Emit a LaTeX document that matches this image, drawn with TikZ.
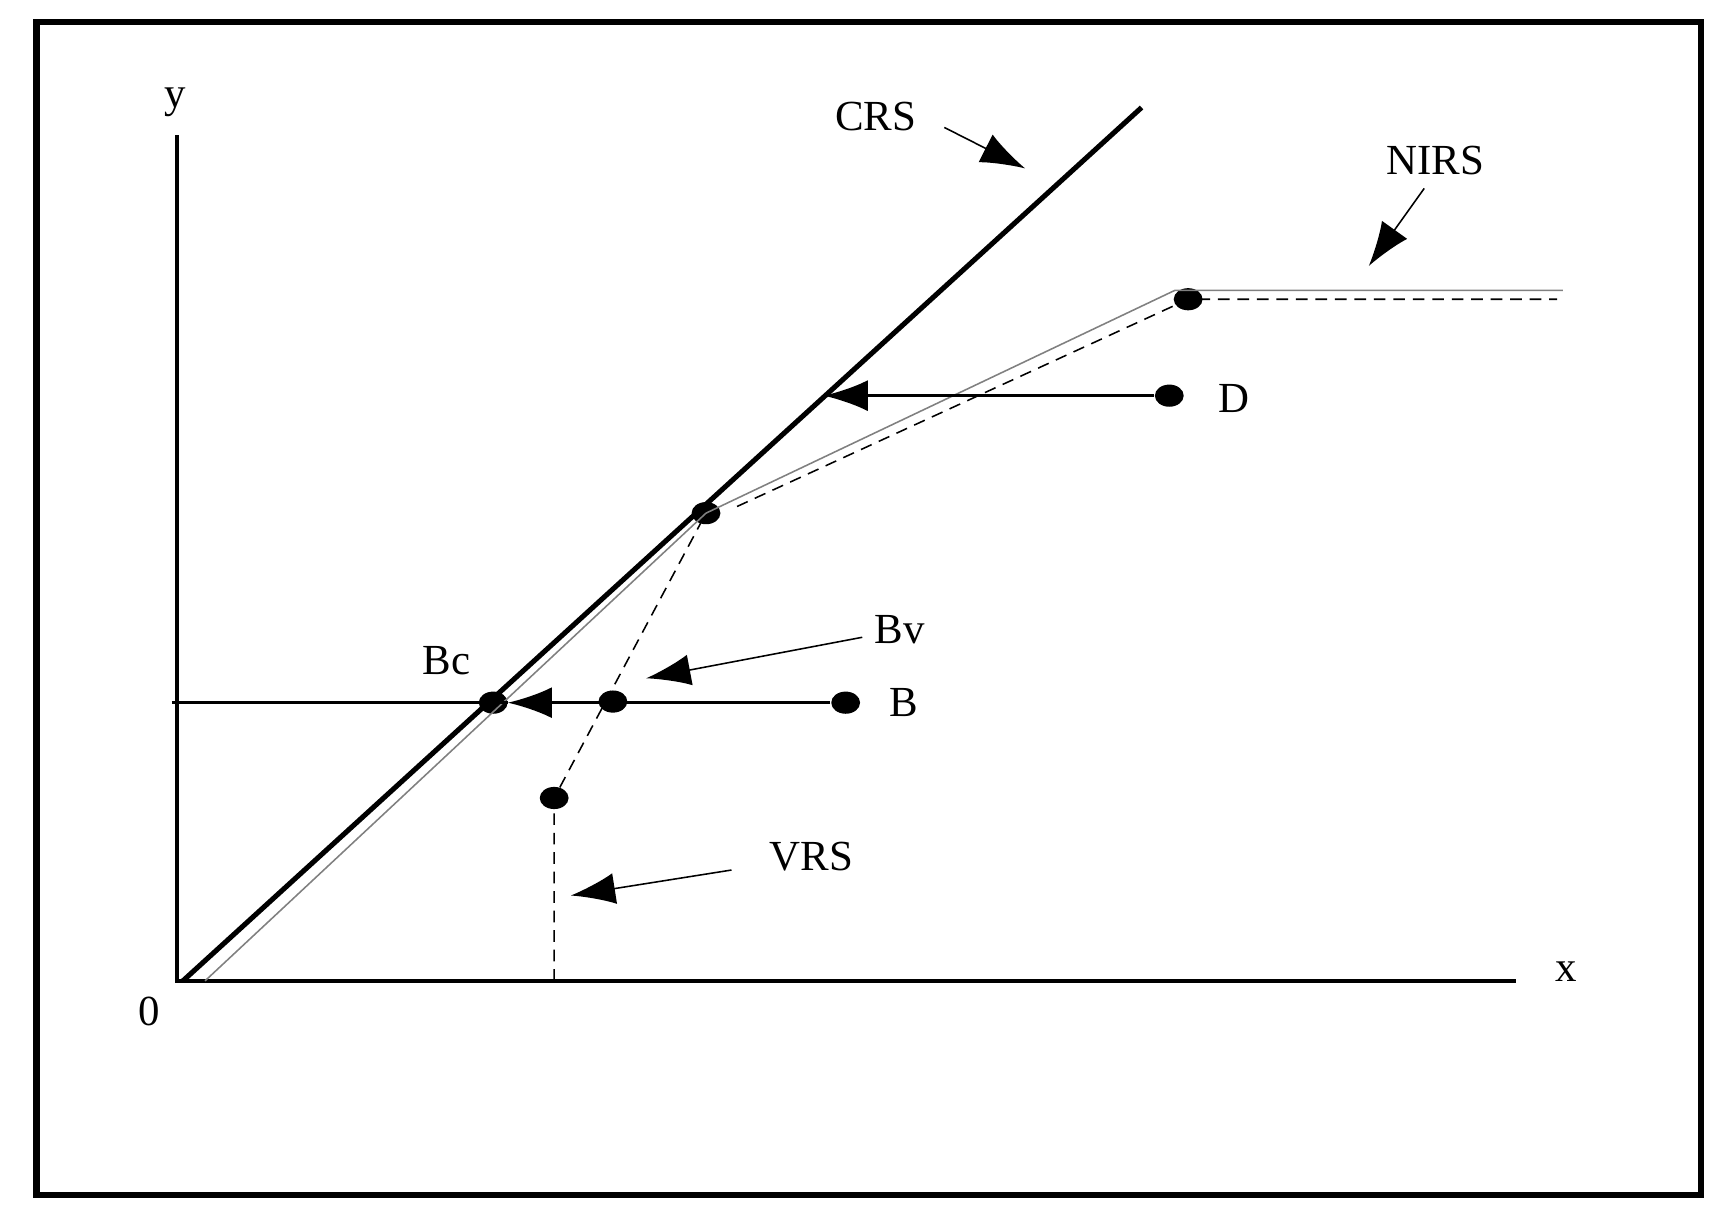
\documentclass[tikz,border=0pt]{standalone}
\usepackage{fontspec}
\setmainfont{Liberation Serif}
\usetikzlibrary{arrows,arrows.meta,positioning,shapes.geometric}
\tikzstyle{line} = [draw, -{Latex[length=0.4cm,width=0.28cm]}]
\begin{document}
\begin{tikzpicture}[x=0.01cm,y=-0.01cm,
        dot/.style={fill, ellipse, inner sep=0pt, minimum width=0.26cm, minimum height=0.2cm},
        lbl/.style={font=\fontsize{11}{13}\selectfont, inner sep=1pt},
        frontier/.style={densely dashed, thin},
        hull/.style={gray, thin}]
        \useasboundingbox (0,0) rectangle (1560,1107);
        \draw [line width=1.6pt] (33,20) rectangle (1535,1078);
        %% Axes
        \coordinate (O) at (160,885);
        \coordinate (Ytop) at (160,122);
        \coordinate (Xend) at (1368,885);
        \draw [line width=1.1pt] (Ytop) -- (O) -- (Xend);
        \node [lbl] at (158,92) (ylab) {y};
        \node [lbl] at (1413,877) (xlab) {x};
        \node [lbl] at (135,913) (zero) {0};
        %% Points
        \node [dot] at (637,463) (P1) {};
        \node [dot] at (1072,270) (P2) {};
        \node [dot] at (1055,357) (D) {};
        \node [dot] at (763,634) (B) {};
        \node [dot] at (553,633) (Bv) {};
        \node [dot] at (445,634) (Bc) {};
        \node [dot] at (500,720) (P0) {};
        \coordinate (Cs) at (165,885);
        \coordinate (Ce) at (1030,97);
        \coordinate (Vb) at (500,885);
        \coordinate (Ve) at (1405,270);
        \coordinate (Ns) at (185,885);
        \coordinate (Ne) at (1410,262);
        \coordinate (Bl) at (155,634);
        \coordinate (Dt) at (743,357);
        \coordinate (Bct) at (458,634);
        %% Frontiers
        \draw [line width=1.3pt] (Cs) -- (Ce);
        \draw [hull] (Ns) -- (P1.center) -- (1060,262) -- (Ne);
        \draw [frontier] (Vb) -- (P0.center) -- (P1.center);
        \draw [frontier] (665,457) -- (P2.center) -- (Ve);
        %% Projections
        \draw [thick] (Bl) -- (Bct);
        \path [line, thick] (B) to (Bct);
        \path [line, thick] (D) to (Dt);
        %% Labels
        \node [lbl] at (790,105) (CRS) {CRS};
        \node [lbl] at (1295,145) (NIRS) {NIRS};
        \node [lbl] at (812,568) (BvL) {Bv};
        \node [lbl] at (403,596) (BcL) {Bc};
        \node [lbl] at (815,634) (BL) {B};
        \node [lbl] at (1113,360) (DL) {D};
        \node [lbl] at (732,773) (VRS) {VRS};
        \path [line] (852,115) to (925,152);
        \path [line] (1285,170) to (1235,240);
        \path [line] (778,575) to (583,612);
        \path [line] (660,785) to (515,808);
    \end{tikzpicture}
\end{document}
